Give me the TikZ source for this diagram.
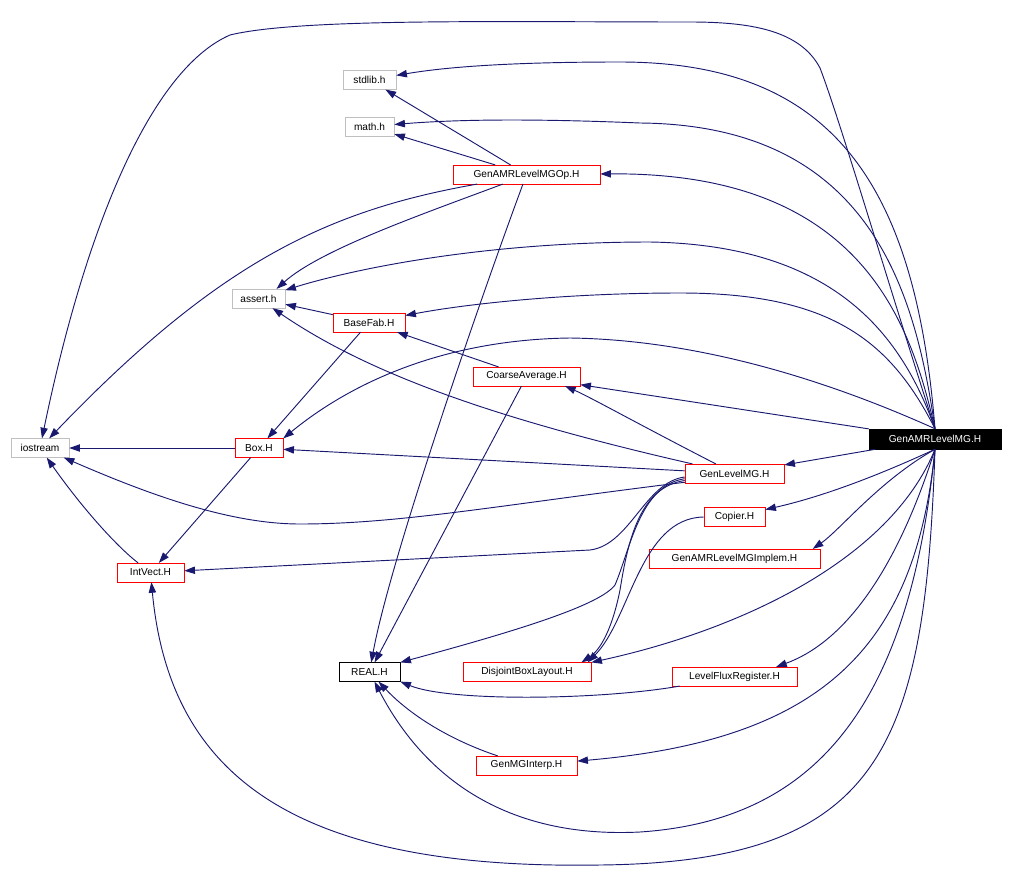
\documentclass[tikz,border=0pt]{standalone}
\usepackage{fontspec}
\setmainfont{Liberation Sans}
\usepackage{tikz}
\usetikzlibrary{arrows.meta}
\definecolor{edgeblue}{HTML}{191970}
\definecolor{sysgray}{HTML}{BFBFBF}
\definecolor{hdrred}{HTML}{FF0000}
\tikzset{
  filebox/.style={rectangle,draw,inner sep=0pt,minimum height=14pt,
    font=\fontsize{7.6}{9}\selectfont,text=black},
  sysfile/.style={filebox,draw=sysgray},
  hdrfile/.style={filebox,draw=hdrred},
  plainfile/.style={filebox,draw=black},
  rootfile/.style={filebox,fill=black,draw=black,text=white,minimum height=15pt},
  dep/.style={-{Triangle[length=8pt,width=5.5pt]},draw=edgeblue,line width=0.7pt},
}

\begin{document}
\begin{tikzpicture}[x=0.75pt,y=-0.75pt]
  \useasboundingbox (0,0) rectangle (1013,878);
  \node[sysfile,minimum width=39.75pt] (stdlib) at (369.5,80) {stdlib.h};
  \node[sysfile,minimum width=36.75pt] (mathh) at (369.5,126.5) {math.h};
  \node[hdrfile,minimum width=110.25pt] (mgop) at (526.5,174.5) {GenAMRLevelMGOp.H};
  \node[sysfile,minimum width=39.75pt] (assert) at (258.5,298.5) {assert.h};
  \node[hdrfile,minimum width=54pt] (basefab) at (369,322.5) {BaseFab.H};
  \node[hdrfile,minimum width=80.25pt] (coarse) at (526.5,376.5) {CoarseAverage.H};
  \node[sysfile,minimum width=43.5pt] (iostream) at (40,448) {iostream};
  \node[hdrfile,minimum width=36pt] (box) at (259,448) {Box.H};
  \node[rootfile,minimum width=99pt] (root) at (935,439) {GenAMRLevelMG.H};
  \node[hdrfile,minimum width=74.25pt] (levelmg) at (734.5,473.5) {GenLevelMG.H};
  \node[hdrfile,minimum width=45.75pt] (copier) at (734.5,516.5) {Copier.H};
  \node[hdrfile,minimum width=128.25pt] (implem) at (734.5,558.5) {GenAMRLevelMGImplem.H};
  \node[hdrfile,minimum width=50.25pt] (intvect) at (150.5,572.5) {IntVect.H};
  \node[plainfile,minimum width=45.75pt] (real) at (369.5,672) {REAL.H};
  \node[hdrfile,minimum width=96pt] (dbl) at (527,672) {DisjointBoxLayout.H};
  \node[hdrfile,minimum width=93.75pt] (fluxreg) at (734.5,676.5) {LevelFluxRegister.H};
  \node[hdrfile,minimum width=75.75pt] (interp) at (526.5,765.5) {GenMGInterp.H};

  \draw[dep] (root.north) .. controls (890,290) and (840,120) .. (820,68) .. controls (800,30) and (750,22) .. (690,22) .. controls (500,22) and (300,18) .. (230,35) .. controls (150,70) and (85,230) .. (iostream);
  \draw[dep] (root.north) .. controls (915,180) and (830,62) .. (620,62) .. controls (500,62) and (440,68) .. (stdlib);
  \draw[dep] (root.north) .. controls (915,290) and (870,125) .. (640,123) .. controls (520,118) and (450,120) .. (mathh);
  \draw[dep] (root.north) .. controls (910,320) and (860,172) .. (mgop);
  \draw[dep] (root.north) .. controls (900,330) and (830,245) .. (650,242) .. controls (480,242) and (350,270) .. (assert);
  \draw[dep] (root.north) .. controls (890,340) and (830,293) .. (680,293) .. controls (560,293) and (460,305) .. (basefab);
  \draw[dep] (root.north) .. controls (860,395) and (720,340) .. (570,338) .. controls (420,340) and (330,400) .. (box.north east);
  \draw[dep] (root) -- (coarse);
  \draw[dep] (root) -- (levelmg);
  \draw[dep] (root.south) .. controls (890,470) and (830,495) .. (copier);
  \draw[dep] (root.south) .. controls (880,480) and (840,530) .. (implem.7);
  \draw[dep] (root.south) .. controls (890,560) and (740,630) .. (dbl.north east);
  \draw[dep] (root.south) .. controls (900,560) and (850,640) .. (fluxreg.13);
  \draw[dep] (root.south) .. controls (915,650) and (820,740) .. (interp);
  \draw[dep] (root.south) .. controls (910,700) and (820,820) .. (640,832) .. controls (480,840) and (410,750) .. (real);
  \draw[dep] (root.south) .. controls (925,750) and (880,862) .. (600,865) .. controls (300,870) and (170,780) .. (intvect);

  \draw[dep] (mgop) -- (stdlib);
  \draw[dep] (mgop) -- (mathh);
  \draw[dep] (mgop.191) .. controls (330,210) and (220,260) .. (iostream);
  \draw[dep] (mgop.202) .. controls (420,215) and (320,250) .. (assert.28);
  \draw[dep] (mgop) .. controls (480,300) and (390,560) .. (real);

  \draw[dep] (coarse) -- (basefab);
  \draw[dep] (coarse) -- (real);
  \draw[dep] (basefab) -- (assert);
  \draw[dep] (basefab) -- (box);
  \draw[dep] (box) -- (iostream);
  \draw[dep] (box) -- (intvect);
  \draw[dep] (intvect) .. controls (115,545) and (80,505) .. (iostream);

  \draw[dep] (levelmg) .. controls (500,420) and (370,375) .. (assert);
  \draw[dep] (levelmg) .. controls (640,425) and (590,397) .. (coarse.-14);
  \draw[dep] (levelmg) -- (box);
  \draw[dep] (levelmg.190) .. controls (500,505) and (400,524) .. (300,524) .. controls (230,524) and (150,495) .. (iostream.-22);
  \draw[dep] (levelmg.184) .. controls (645,482) and (630,545) .. (590,550) -- (intvect);
  \draw[dep] (levelmg.186) .. controls (640,485) and (630,550) .. (615,585) .. controls (600,605) and (520,630) .. (real.north east);
  \draw[dep] (levelmg.188) .. controls (640,487) and (628,540) .. (620,590) .. controls (612,630) and (600,650) .. (dbl.10);
  \draw[dep] (copier) .. controls (640,518) and (630,620) .. (dbl.9);
  \draw[dep] (fluxreg) .. controls (600,700) and (450,702) .. (real.south east);
  \draw[dep] (interp) .. controls (450,740) and (410,715) .. (real);
\end{tikzpicture}
\end{document}
